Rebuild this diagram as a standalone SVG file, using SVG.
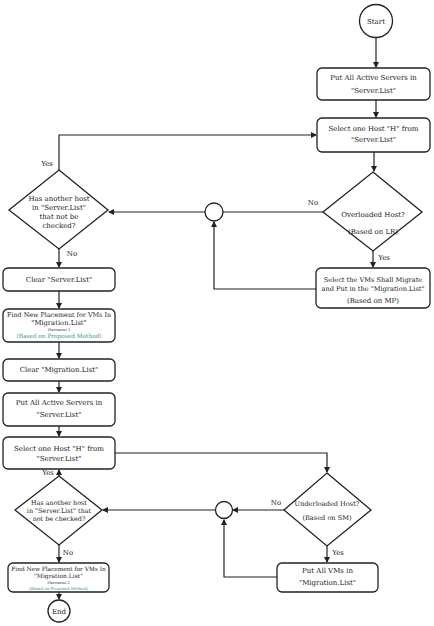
<svg xmlns="http://www.w3.org/2000/svg" width="434" height="626" viewBox="0 0 434 626">
<defs>
<marker id="ah" markerWidth="6" markerHeight="6" refX="5" refY="3" orient="auto" markerUnits="userSpaceOnUse">
<path d="M0,0 L6,3 L0,6 Z" fill="#222"/>
</marker>
<style>
.s{fill:#fff;stroke:#222;stroke-width:1.3}
.c{fill:none;stroke:#222;stroke-width:1.2}
text{font-family:"DejaVu Serif","Liberation Serif",serif;font-size:7px;fill:#222;text-anchor:middle}
.sm{font-size:3.6px}
.g{fill:#3a9a6a}
</style>
</defs>
<rect width="434" height="626" fill="#fff"/>
<g id="connectors">
<path class="c" d="M376,38 V67" marker-end="url(#ah)"/>
<path class="c" d="M376,100 V117" marker-end="url(#ah)"/>
<path class="c" d="M374,152 V171" marker-end="url(#ah)"/>
<path class="c" d="M59,170 V135 H316" marker-end="url(#ah)"/>
<path class="c" d="M323,212 H223"/>
<path class="c" d="M205,212 H109" marker-end="url(#ah)"/>
<path class="c" d="M373,250 V267" marker-end="url(#ah)"/>
<path class="c" d="M316,289 H214 V222" marker-end="url(#ah)"/>
<path class="c" d="M59,248 V267" marker-end="url(#ah)"/>
<path class="c" d="M59,291 V308" marker-end="url(#ah)"/>
<path class="c" d="M59,342 V358" marker-end="url(#ah)"/>
<path class="c" d="M59,381 V392" marker-end="url(#ah)"/>
<path class="c" d="M59,426 V436" marker-end="url(#ah)"/>
<path class="c" d="M115,453 H327 V472" marker-end="url(#ah)"/>
<path class="c" d="M284,510 H233" marker-end="url(#ah)"/>
<path class="c" d="M215,510 H103" marker-end="url(#ah)"/>
<path class="c" d="M327,545 V562" marker-end="url(#ah)"/>
<path class="c" d="M277,577 H224 V520" marker-end="url(#ah)"/>
<path class="c" d="M59,476 V470" marker-end="url(#ah)"/>
<path class="c" d="M59,545 V562" marker-end="url(#ah)"/>
<path class="c" d="M59,592 V599" marker-end="url(#ah)"/>
<text x="313" y="205">No</text>
<text x="384" y="260">Yes</text>
<text x="47" y="166">Yes</text>
<text x="72" y="256">No</text>
<text x="276" y="505">No</text>
<text x="338" y="555">Yes</text>
<text x="48" y="475">Yes</text>
<text x="68" y="555">No</text>
</g>
<g id="start">
<circle class="s" cx="376" cy="21" r="16.5"/>
<text x="376" y="24">Start</text>
</g>
<g id="put-servers-1">
<rect class="s" x="317" y="68" width="113" height="32" rx="5"/>
<text x="373.5" y="80">Put All Active Servers in</text>
<text x="373.5" y="93">"Server.List"</text>
</g>
<g id="select-host-1">
<rect class="s" x="317" y="118" width="113" height="34" rx="5"/>
<text x="373.5" y="131">Select one Host "H" from</text>
<text x="373.5" y="142">"Server.List"</text>
</g>
<g id="overloaded">
<polygon class="s" points="373,172 422,212 373,251 323,212"/>
<text x="373" y="217">Overloaded Host?</text>
<text x="373" y="234">(Based on LR)</text>
</g>
<g id="junction-1">
<circle class="s" cx="214" cy="212" r="9"/>
</g>
<g id="select-vms">
<rect class="s" x="316" y="268" width="114" height="40" rx="5"/>
<text x="373" y="282" style="font-size:6.6px">Select the VMs Shall Migrate</text>
<text x="373" y="290.5" style="font-size:6.6px">and Put in the "Migration.List"</text>
<text x="373" y="303">(Based on MP)</text>
</g>
<g id="another-host-1">
<polygon class="s" points="59,170 108,210 59,249 9,210"/>
<text x="59" y="201">Has another host</text>
<text x="59" y="210">in "Server.List"</text>
<text x="59" y="219">that not be</text>
<text x="59" y="228">checked?</text>
</g>
<g id="clear-server">
<rect class="s" x="3" y="268" width="112" height="23" rx="5"/>
<text x="59" y="281.5">Clear "Server.List"</text>
</g>
<g id="placement-1">
<rect class="s" x="3" y="309" width="112" height="33" rx="5"/>
<text x="59" y="317" style="font-size:6.4px">Find New Placement for VMs In</text>
<text x="59" y="324.5" style="font-size:6.8px">"Migration.List"</text>
<text class="sm" x="59" y="331">Placement 1</text>
<text class="g" x="59" y="338" style="font-size:5.8px">(Based on Proposed Method)</text>
</g>
<g id="clear-migration">
<rect class="s" x="3" y="359" width="112" height="22" rx="5"/>
<text x="59" y="372">Clear "Migration.List"</text>
</g>
<g id="put-servers-2">
<rect class="s" x="3" y="393" width="112" height="33" rx="5"/>
<text x="59" y="405">Put All Active Servers in</text>
<text x="59" y="417">"Server.List"</text>
</g>
<g id="select-host-2">
<rect class="s" x="3" y="437" width="112" height="32" rx="5"/>
<text x="59" y="451">Select one Host "H" from</text>
<text x="59" y="461">"Server.List"</text>
</g>
<g id="underloaded">
<polygon class="s" points="327,473 371,510 327,546 284,510"/>
<text x="327" y="506" style="font-size:6.6px">Underloaded Host?</text>
<text x="327" y="520" style="font-size:6.6px">(Based on SM)</text>
</g>
<g id="junction-2">
<circle class="s" cx="224" cy="510" r="8.5"/>
</g>
<g id="put-vms">
<rect class="s" x="277" y="563" width="101" height="29" rx="5"/>
<text x="327.5" y="573">Put All VMs in</text>
<text x="327.5" y="585">"Migration.List"</text>
</g>
<g id="another-host-2">
<polygon class="s" points="59,476 102,510 59,545 15,510"/>
<text x="59" y="505" style="font-size:6.4px">Has another host</text>
<text x="59" y="513" style="font-size:6.4px">in "Server.List" that</text>
<text x="59" y="521" style="font-size:6.4px">not be checked?</text>
</g>
<g id="placement-2">
<rect class="s" x="8" y="563" width="101" height="29" rx="5"/>
<text x="58.5" y="571" style="font-size:5.8px">Find New Placement for VMs In</text>
<text x="58.5" y="578" style="font-size:6px">"Migration.List"</text>
<text class="sm" x="58.5" y="584">Placement 2</text>
<text class="g" x="58.5" y="589.5" style="font-size:4px">(Based on Proposed Method)</text>
</g>
<g id="end">
<circle class="s" cx="59" cy="611" r="11"/>
<text x="59" y="613.5">End</text>
</g>
</svg>
